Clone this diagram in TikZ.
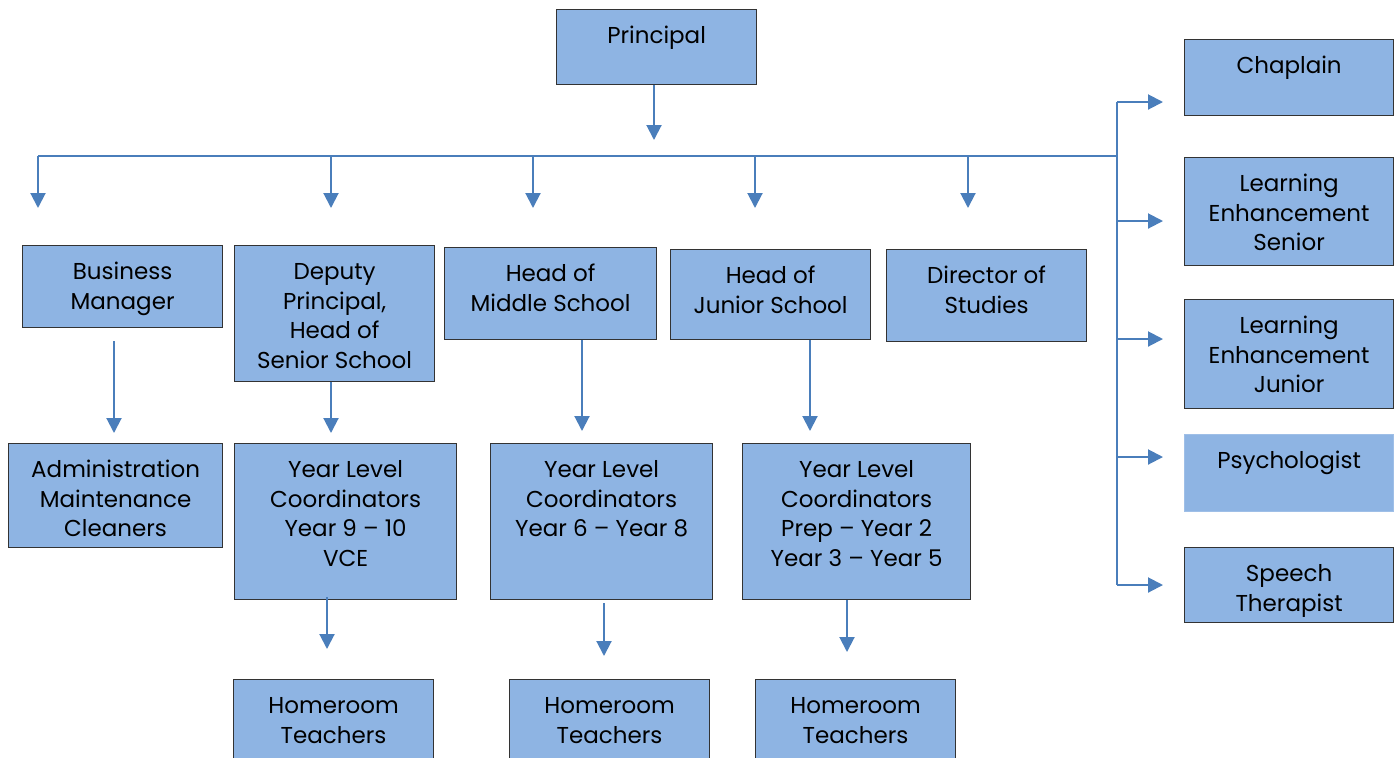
\documentclass[tikz,border=0pt]{standalone}
\usepackage{fontspec}
\setmainfont{Poppins}
\usetikzlibrary{arrows.meta}
\definecolor{boxblue}{HTML}{8EB4E3}
\definecolor{lineblue}{HTML}{4A7EBB}
\newcommand{\bt}[3]{\parbox[c][#2pt][t]{#1pt}{\centering\rule{0pt}{17pt}#3}}
\tikzset{
  box/.style={draw=black!80, line width=0.6pt, fill=boxblue, inner sep=0pt, anchor=north west,
    font=\fontsize{11.5}{14.75}\selectfont},
  nobox/.style={box, draw=boxblue!85!white},
  ln/.style={draw=lineblue, line width=1pt},
  arr/.style={ln, -{Triangle[length=7.5pt,width=7.5pt]}}
}
\begin{document}
\begin{tikzpicture}[x=0.5pt,y=-0.5pt]
\useasboundingbox (0,0) rectangle (1398,757);
\clip (0,0) rectangle (1398,757);
% boxes
\node[box] (pr) at (556,9) {\bt{100}{37.5}{Principal}};
\node[box] (ch) at (1184,39) {\bt{104.5}{38}{Chaplain}};
\node[box] (les) at (1184,157) {\bt{104.5}{54}{Learning\\Enhancement\\Senior}};
\node[box] (lej) at (1184,299) {\bt{104.5}{54.5}{Learning\\Enhancement\\Junior}};
\node[nobox] (ps) at (1184,434) {\bt{104.5}{38.5}{Psychologist}};
\node[box] (sp) at (1184,547) {\bt{104.5}{37.5}{Speech\\Therapist}};
\node[box] (bm) at (22,245) {\bt{100}{41}{Business\\Manager}};
\node[box] (dp) at (234,245) {\bt{100}{68}{Deputy\\Principal,\\Head of\\Senior School}};
\node[box] (hm) at (444,247) {\bt{106}{46}{Head of\\Middle School}};
\node[box] (hj) at (670,249) {\bt{100}{45}{Head of\\Junior School}};
\node[box] (ds) at (886,249) {\bt{100}{46}{Director of\\Studies}};
\node[box] (ad) at (8,443) {\bt{107}{52}{Administration\\Maintenance\\Cleaners}};
\node[box] (ys) at (234,443) {\bt{111}{78}{Year Level\\Coordinators\\Year 9 -- 10\\VCE}};
\node[box] (ym) at (490,443) {\bt{111}{78}{Year Level\\Coordinators\\Year 6 -- Year 8}};
\node[box] (yj) at (742,443) {\bt{114}{78}{Year Level\\Coordinators\\Prep -- Year 2\\Year 3 -- Year 5}};
\node[box] (h1) at (233,679) {\bt{100}{50}{Homeroom\\Teachers}};
\node[box] (h2) at (509,679) {\bt{100}{50}{Homeroom\\Teachers}};
\node[box] (h3) at (755,679) {\bt{100}{50}{Homeroom\\Teachers}};
% coordinates
\coordinate (pt) at (654,140);
\coordinate (bl) at (38,156);
\coordinate (br) at (1117,156);
\coordinate (rt) at (1117,102);
\coordinate (rb) at (1117,585);
\coordinate (d1) at (38,208);
\coordinate (d2) at (331,208);
\coordinate (d3) at (533,208);
\coordinate (d4) at (755,208);
\coordinate (d5) at (968,208);
\coordinate (r1) at (1163,102);
\coordinate (r2) at (1163,221);
\coordinate (r3) at (1163,339);
\coordinate (r4) at (1163,457);
\coordinate (r5) at (1163,585);
\coordinate (a1s) at (114,341);
\coordinate (a1) at (114,433);
\coordinate (a2) at (331,433);
\coordinate (a3) at (582,431);
\coordinate (a4) at (810,431);
\coordinate (b1s) at (327,597);
\coordinate (b1) at (327,649);
\coordinate (b2s) at (604,603);
\coordinate (b2) at (604,656);
\coordinate (b3) at (847,652);
% connectors
\draw[arr] (pr.south -| pt) -- (pt);
\draw[ln] (bl) -- (br);
\draw[ln] (rt) -- (rb);
\foreach \d in {d1,d2,d3,d4,d5} \draw[arr] (\d |- bl) -- (\d);
\foreach \r in {r1,r2,r3,r4,r5} \draw[arr] (rt |- \r) -- (\r);
\draw[arr] (a1s) -- (a1);
\draw[arr] (dp.south -| a2) -- (a2);
\draw[arr] (hm.south -| a3) -- (a3);
\draw[arr] (hj.south -| a4) -- (a4);
\draw[arr] (b1s) -- (b1);
\draw[arr] (b2s) -- (b2);
\draw[arr] (yj.south -| b3) -- (b3);
\end{tikzpicture}
\end{document}
